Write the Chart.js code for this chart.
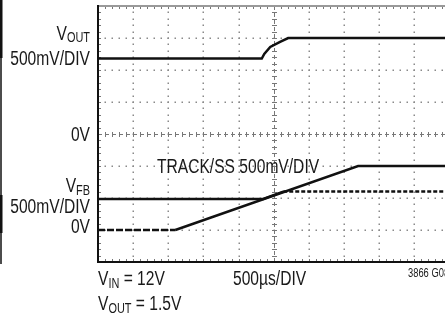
<!DOCTYPE html>
<html>
<head>
<meta charset="utf-8">
<script src="https://cdn.jsdelivr.net/npm/chart.js@4.4.1/dist/chart.umd.min.js"></script>
<style>
  html, body { margin: 0; padding: 0; background: #fff; overflow: hidden; }
  #wrap { width: 445px; height: 314px; overflow: hidden; }
  canvas { display: block; }
</style>
</head>
<body>
<div id="wrap"><canvas id="scope" width="460" height="314"></canvas></div>
<script>
// time in divisions (500us/DIV), level in screen divisions (0 = bottom line)
const voutTime = [0, 4.66, 4.73, 4.9, 5.18, 5.41, 10];
const voutLevel = [6.36, 6.36, 6.5, 6.72, 6.88, 7.0, 7.0];
const trackTime = [0, 2.2, 7.4, 10];
const trackLevel = [1.0, 1.0, 3.0, 3.0];
const vfbTime = [0, 4.7, 5.27, 10];
const vfbLevel = [1.97, 1.97, 2.2, 2.2];
const xDivs = 10;
const yDivs = 8;

function pts(t, v) {
    return t.map((x, i) => ({x: x, y: v[i]}));
}

// narrow sans look: Liberation Sans squeezed horizontally
const FONT = '"Liberation Sans", Arial, sans-serif';
const SQUEEZE = 0.78;

function label(ctx, parts, x, y, align) {
    // parts: [[text, size, dy], ...]
    let w = 0;
    parts.forEach(p => { ctx.font = p[1] + 'px ' + FONT; w += ctx.measureText(p[0]).width * SQUEEZE; });
    let cx = align === 'right' ? x - w : x;
    parts.forEach(p => {
        ctx.font = p[1] + 'px ' + FONT;
        ctx.save();
        ctx.translate(cx, y + (p[2] || 0));
        ctx.scale(SQUEEZE, 1);
        ctx.fillText(p[0], 0, 0);
        ctx.restore();
        cx += ctx.measureText(p[0]).width * SQUEEZE;
    });
}

const graticule = {
    id: 'graticule',
    beforeDatasetsDraw(chart) {
        const ctx = chart.ctx;
        const xs = chart.scales.x, ys = chart.scales.y;
        const a = chart.chartArea;
        ctx.save();
        ctx.fillStyle = '#8a8a8a';
        // dotted grid lines
        for (let i = 1; i < xDivs; i++) {
            if (i === 5) continue;
            const px = Math.round(xs.getPixelForValue(i));
            for (let k = 0; k <= yDivs * 5; k++) {
                ctx.fillRect(px - 0.5, Math.round(ys.getPixelForValue(k / 5)) - 0.5, 1.5, 1.5);
            }
        }
        for (let j = 1; j < yDivs; j++) {
            if (j === 4) continue;
            const py = Math.round(ys.getPixelForValue(j));
            for (let k = 0; k <= xDivs * 5; k++) {
                ctx.fillRect(Math.round(xs.getPixelForValue(k / 5)) - 0.5, py - 0.5, 1.5, 1.5);
            }
        }
        // center lines with minor ticks
        ctx.strokeStyle = '#777';
        ctx.lineWidth = 1;
        const cx = Math.round(xs.getPixelForValue(5)) + 0.5;
        const cy = Math.round(ys.getPixelForValue(4)) + 0.5;
        ctx.setLineDash([4, 3]);
        ctx.beginPath();
        ctx.moveTo(a.left, cy); ctx.lineTo(a.right, cy);
        ctx.moveTo(cx, a.top); ctx.lineTo(cx, a.bottom);
        ctx.stroke();
        ctx.setLineDash([]);
        ctx.beginPath();
        for (let k = 0; k <= xDivs * 5; k++) {
            const px = Math.round(xs.getPixelForValue(k / 5)) + 0.5;
            ctx.moveTo(px, cy - 2.5); ctx.lineTo(px, cy + 2.5);
            ctx.moveTo(px, a.top); ctx.lineTo(px, a.top + 3);
            ctx.moveTo(px, a.bottom); ctx.lineTo(px, a.bottom - 3);
        }
        for (let k = 0; k <= yDivs * 5; k++) {
            const py = Math.round(ys.getPixelForValue(k / 5)) + 0.5;
            ctx.moveTo(cx - 2.5, py); ctx.lineTo(cx + 2.5, py);
            ctx.moveTo(a.left, py); ctx.lineTo(a.left + 3, py);
        }
        ctx.stroke();
        // frame: top grey, left and bottom black
        ctx.strokeStyle = '#999';
        ctx.lineWidth = 2;
        ctx.beginPath();
        ctx.moveTo(a.left, a.top); ctx.lineTo(a.right + 5, a.top);
        ctx.stroke();
        ctx.strokeStyle = '#111';
        ctx.beginPath();
        ctx.moveTo(a.left, a.top - 1); ctx.lineTo(a.left, a.bottom);
        ctx.lineTo(a.right + 5, a.bottom);
        ctx.stroke();
        // edge of neighbouring plot at far left
        ctx.lineWidth = 1.5;
        ctx.beginPath();
        ctx.moveTo(1, 0); ctx.lineTo(1, a.bottom + 2);
        ctx.stroke();
        ctx.fillStyle = '#111';
        ctx.fillRect(0, 0, 2.5, 58);
        ctx.fillRect(0, 195, 2.5, 38);
        ctx.restore();
    },
    afterDraw(chart) {
        const ctx = chart.ctx;
        const ys = chart.scales.y;
        ctx.save();
        ctx.fillStyle = '#1a1a1a';
        ctx.textBaseline = 'alphabetic';
        const rx = 90;
        label(ctx, [['V', 20], ['OUT', 14, 2]], rx, 40, 'right');
        label(ctx, [['500mV/DIV', 20]], rx, 65, 'right');
        label(ctx, [['0V', 20]], rx, ys.getPixelForValue(4) + 7, 'right');
        label(ctx, [['V', 20], ['FB', 14, 3]], rx, 191.5, 'right');
        label(ctx, [['500mV/DIV', 20]], rx, 213, 'right');
        label(ctx, [['0V', 20]], rx, ys.getPixelForValue(1) + 3, 'right');
        label(ctx, [['TRACK/SS 500mV/DIV', 20]], 157, 173, 'left');
        label(ctx, [['V', 20], ['IN', 14, 3], [' = 12V', 20]], 98, 285, 'left');
        label(ctx, [['V', 20], ['OUT', 14, 3], [' = 1.5V', 20]], 98, 310, 'left');
        label(ctx, [['500\u00b5s/DIV', 20]], 233, 285, 'left');
        label(ctx, [['3866 G08', 12]], 408, 277, 'left');
        ctx.restore();
    }
};

const trace = {
    showLine: true,
    borderColor: '#111',
    borderWidth: 2.5,
    pointRadius: 0,
    tension: 0,
    fill: false
};

new Chart(document.getElementById('scope'), {
    type: 'scatter',
    data: {
        datasets: [
            Object.assign({label: 'VOUT', data: pts(voutTime, voutLevel)}, trace),
            Object.assign({label: 'TRACK/SS', data: pts(trackTime, trackLevel),
                segment: { borderDash: c => c.p0DataIndex === 0 ? [7, 2] : undefined }}, trace),
            Object.assign({label: 'VFB', data: pts(vfbTime, vfbLevel),
                segment: { borderDash: c => c.p0DataIndex >= 2 ? [4, 2] : undefined }}, trace)
        ]
    },
    options: {
        responsive: false,
        animation: false,
        layout: { padding: { left: 98, top: 6, right: 10.5, bottom: 52 } },
        plugins: { legend: { display: false }, tooltip: { enabled: false } },
        scales: {
            x: { type: 'linear', min: 0, max: xDivs, display: false },
            y: { type: 'linear', min: 0, max: yDivs, display: false }
        }
    },
    plugins: [graticule]
});
</script>
</body>
</html>
